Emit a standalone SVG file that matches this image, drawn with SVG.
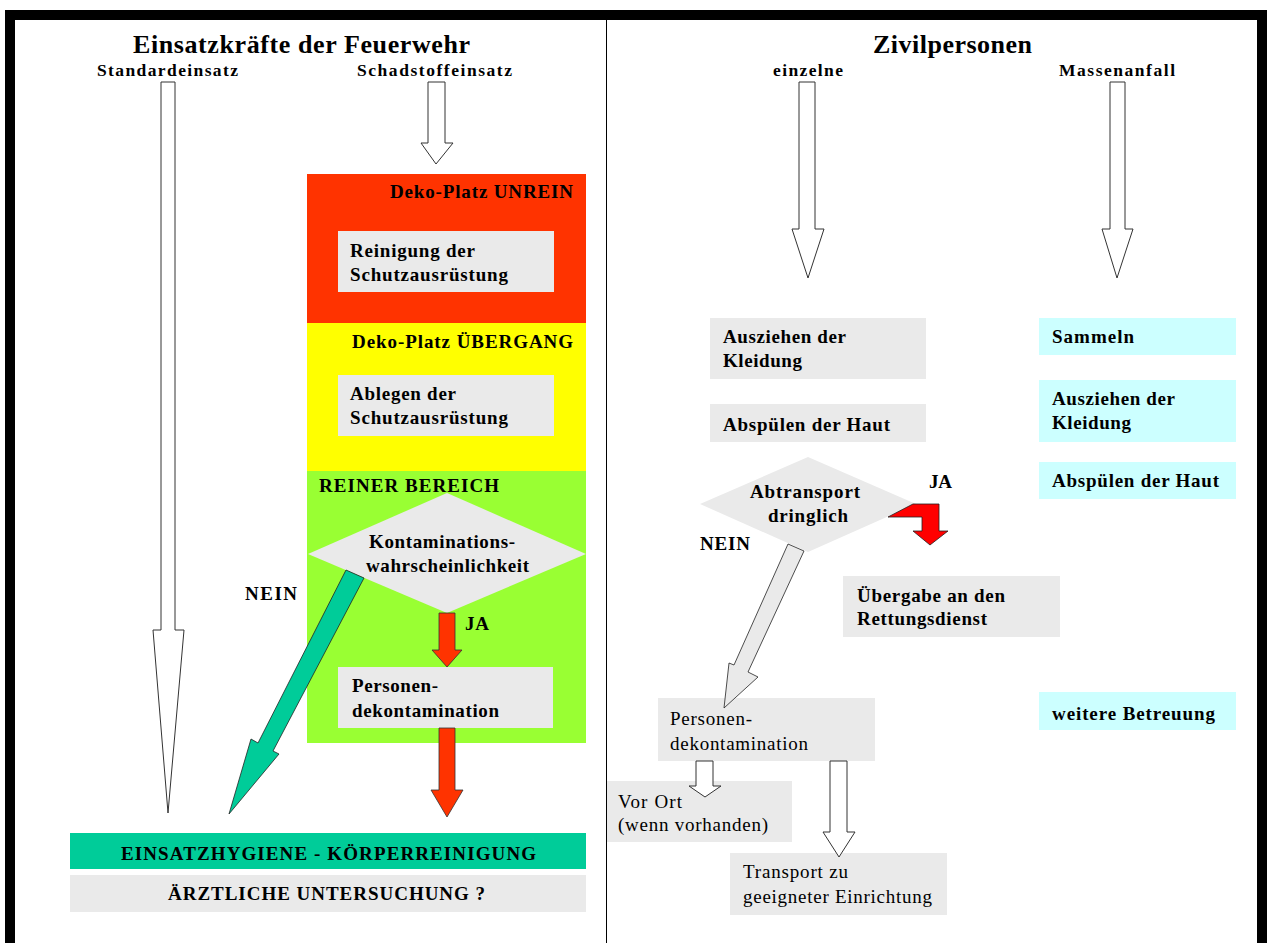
<svg xmlns="http://www.w3.org/2000/svg" width="1267" height="943" viewBox="0 0 1267 943">
<style>
text{font-family:"Liberation Serif","Times New Roman",serif;fill:#000}
.title{font-size:26px;font-weight:bold}
.sub{font-size:17.5px;font-weight:bold}
.lb{font-size:19px;font-weight:bold}
.zl{font-size:19px;font-weight:bold}
.rg{font-size:19px;font-weight:normal}
.gray{fill:#EAEAEA}
.cyan{fill:#CCFFFF}
.hollow{fill:#fff;stroke:#333;stroke-width:1}
.redar{fill:#FF3300;stroke:#333;stroke-width:0.8}
</style>
<rect x="0" y="0" width="1267" height="943" fill="#fff"/>
<g id="frame">
<rect x="5" y="10" width="1262" height="10" fill="#000"/>
<rect x="5" y="10" width="10" height="933" fill="#000"/>
<rect x="1257" y="10" width="10" height="933" fill="#000"/>
<line x1="606.5" y1="20" x2="606.5" y2="943" stroke="#000" stroke-width="1"/>
</g>
<g id="headings">
<text class="title" x="133" y="53" textLength="337" lengthAdjust="spacing">Einsatzkräfte der Feuerwehr</text>
<text class="title" x="873" y="53" textLength="159" lengthAdjust="spacing">Zivilpersonen</text>
<text class="sub" x="97" y="76" textLength="141" lengthAdjust="spacing">Standardeinsatz</text>
<text class="sub" x="357" y="76" textLength="155" lengthAdjust="spacing">Schadstoffeinsatz</text>
<text class="sub" x="773" y="76" textLength="70" lengthAdjust="spacing">einzelne</text>
<text class="sub" x="1059" y="76" textLength="116" lengthAdjust="spacing">Massenanfall</text>
</g>
<g id="zone-unrein">
<rect x="307" y="174" width="279" height="149" fill="#FF3300"/>
<text class="lb" x="390" y="198" textLength="183" lengthAdjust="spacing">Deko-Platz UNREIN</text>
</g>
<g id="zone-uebergang">
<rect x="307" y="323" width="279" height="148" fill="#FFFF00"/>
<text class="lb" x="352" y="348" textLength="221" lengthAdjust="spacing">Deko-Platz ÜBERGANG</text>
</g>
<g id="zone-rein">
<rect x="307" y="471" width="279" height="272" fill="#99FF33"/>
<text class="zl" x="319" y="492" textLength="180" lengthAdjust="spacing">REINER BEREICH</text>
</g>
<g id="reinigung">
<rect class="gray" x="338" y="231" width="216" height="61"/>
<text class="lb" x="350" y="257" textLength="125" lengthAdjust="spacing">Reinigung der</text>
<text class="lb" x="350" y="281" textLength="158" lengthAdjust="spacing">Schutzausrüstung</text>
</g>
<g id="ablegen">
<rect class="gray" x="338" y="375" width="216" height="61"/>
<text class="lb" x="350" y="400" textLength="106" lengthAdjust="spacing">Ablegen der</text>
<text class="lb" x="350" y="424" textLength="158" lengthAdjust="spacing">Schutzausrüstung</text>
</g>
<g id="kontamination">
<polygon class="gray" points="308,554 447,493 586,554 447,613"/>
<text class="lb" x="369" y="548" textLength="146" lengthAdjust="spacing">Kontaminations-</text>
<text class="lb" x="366" y="572" textLength="163" lengthAdjust="spacing">wahrscheinlichkeit</text>
</g>
<g id="personen-feuerwehr">
<rect class="gray" x="338" y="667" width="215" height="61"/>
<text class="lb" x="352" y="692" textLength="86" lengthAdjust="spacing">Personen-</text>
<text class="lb" x="352" y="717" textLength="147" lengthAdjust="spacing">dekontamination</text>
</g>
<g id="einsatzhygiene">
<rect x="70" y="833" width="516" height="36" fill="#00CC99"/>
<text class="zl" x="121" y="860" textLength="415" lengthAdjust="spacing">EINSATZHYGIENE - KÖRPERREINIGUNG</text>
</g>
<g id="aerztlich">
<rect class="gray" x="70" y="875" width="516" height="37"/>
<text class="zl" x="168" y="900" textLength="317" lengthAdjust="spacing">ÄRZTLICHE UNTERSUCHUNG ?</text>
</g>
<g id="ausziehen-einzeln">
<rect class="gray" x="710" y="318" width="216" height="61"/>
<text class="lb" x="723" y="343" textLength="123" lengthAdjust="spacing">Ausziehen der</text>
<text class="lb" x="723" y="367" textLength="79" lengthAdjust="spacing">Kleidung</text>
</g>
<g id="abspuelen-einzeln">
<rect class="gray" x="710" y="404" width="216" height="38"/>
<text class="lb" x="723" y="431" textLength="167" lengthAdjust="spacing">Abspülen der Haut</text>
</g>
<g id="abtransport">
<polygon class="gray" points="700,504 808,457 916,504 808,552"/>
<text class="lb" x="750" y="498" textLength="110" lengthAdjust="spacing">Abtransport</text>
<text class="lb" x="768" y="522" textLength="80" lengthAdjust="spacing">dringlich</text>
</g>
<g id="uebergabe">
<rect class="gray" x="843" y="576" width="217" height="61"/>
<text class="lb" x="857" y="602" textLength="148" lengthAdjust="spacing">Übergabe an den</text>
<text class="lb" x="857" y="625" textLength="130" lengthAdjust="spacing">Rettungsdienst</text>
</g>
<g id="personen-zivil">
<rect class="gray" x="658" y="698" width="217" height="63"/>
<text class="rg" x="670" y="725" textLength="82" lengthAdjust="spacing">Personen-</text>
<text class="rg" x="670" y="750" textLength="138" lengthAdjust="spacing">dekontamination</text>
</g>
<g id="vor-ort">
<rect class="gray" x="607" y="781" width="185" height="61"/>
<text class="rg" x="618" y="808" textLength="64" lengthAdjust="spacing">Vor Ort</text>
<text class="rg" x="618" y="831" textLength="150" lengthAdjust="spacing">(wenn vorhanden)</text>
</g>
<g id="transport">
<rect class="gray" x="730" y="853" width="217" height="62"/>
<text class="rg" x="743" y="878" textLength="105" lengthAdjust="spacing">Transport zu</text>
<text class="rg" x="743" y="903" textLength="189" lengthAdjust="spacing">geeigneter Einrichtung</text>
</g>
<g id="sammeln">
<rect class="cyan" x="1039" y="318" width="197" height="37"/>
<text class="lb" x="1052" y="343" textLength="82" lengthAdjust="spacing">Sammeln</text>
</g>
<g id="ausziehen-masse">
<rect class="cyan" x="1039" y="380" width="197" height="62"/>
<text class="lb" x="1052" y="405" textLength="123" lengthAdjust="spacing">Ausziehen der</text>
<text class="lb" x="1052" y="429" textLength="79" lengthAdjust="spacing">Kleidung</text>
</g>
<g id="abspuelen-masse">
<rect class="cyan" x="1039" y="462" width="197" height="37"/>
<text class="lb" x="1052" y="487" textLength="167" lengthAdjust="spacing">Abspülen der Haut</text>
</g>
<g id="betreuung">
<rect class="cyan" x="1039" y="692" width="197" height="38"/>
<text class="lb" x="1052" y="720" textLength="163" lengthAdjust="spacing">weitere Betreuung</text>
</g>
<g id="connectors">
<polygon class="hollow" points="161,82 175,82 175,630 184,630 168,813 153,630 161,630"/>
<polygon class="hollow" points="428,82 445,82 445,143 453,143 436,164 421,143 428,143"/>
<polygon class="hollow" points="799,82 815,82 815,229 824,229 808,278 792,229 799,229"/>
<polygon class="hollow" points="1110,82 1125,82 1125,229 1133,229 1117,278 1102,229 1110,229"/>
<polygon class="redar" points="439,613 455,613 455,650 462,650 447,667 432,650 439,650"/>
<polygon class="redar" points="439,728 455,728 455,790 463,790 447,817 431,790 439,790"/>
<polygon fill="#00CC99" stroke="#222" stroke-width="0.8" points="346,570 364,578 273,751 279,754 229,814 251,739 258,743"/>
<text class="lb" x="465" y="630" textLength="24" lengthAdjust="spacing">JA</text>
<text class="lb" x="245" y="600" textLength="52" lengthAdjust="spacing">NEIN</text>
<path d="M888,517 L913,504 L939,504 L939,531 L948,531 L930,545 L913,531 L922,531 L922,517 Z" fill="#FF0000" stroke="#222" stroke-width="0.8"/>
<polygon fill="#EAEAEA" stroke="#222" stroke-width="0.8" points="788,544 804,551 748,672 758,677 724,708 729,663 734,665"/>
<text class="lb" x="929" y="488" textLength="23" lengthAdjust="spacing">JA</text>
<text class="lb" x="700" y="550" textLength="50" lengthAdjust="spacing">NEIN</text>
<polygon class="hollow" points="696,761 713,761 713,786 721,786 705,797 689,786 696,786"/>
<polygon class="hollow" points="830,761 847,761 847,832 855,832 839,857 823,832 830,832"/>
</g>
</svg>
